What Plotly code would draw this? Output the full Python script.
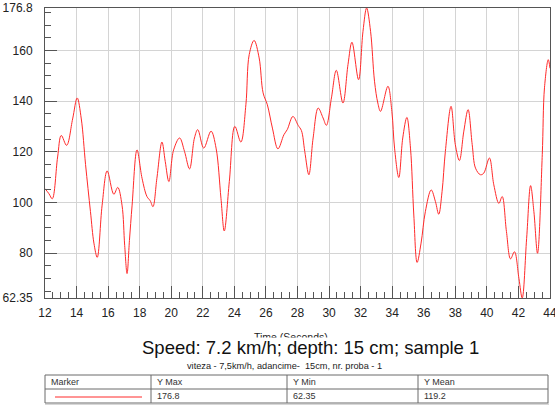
import plotly.graph_objects as go

# ---- data ----
time_s = [12.0, 12.25, 12.46, 12.8, 13.03, 13.37, 13.75, 14.04, 14.3, 14.57, 14.88, 15.1, 15.31,
          15.62, 15.94, 16.36, 16.61, 16.88, 17.05, 17.2, 17.35, 17.52, 17.83, 18.15, 18.46,
          18.67, 18.84, 19.09, 19.41, 19.62, 19.85, 20.15, 20.53, 20.84, 21.16, 21.47, 21.68,
          22.06, 22.52, 22.84, 23.15, 23.36, 23.68, 24.03, 24.41, 24.73, 24.94, 25.25, 25.57,
          25.82, 26.09, 26.41, 26.76, 27.14, 27.35, 27.71, 28.04, 28.25, 28.46, 28.72, 28.99,
          29.31, 29.62, 29.83, 30.15, 30.46, 30.88, 31.2, 31.45, 31.87, 32.15, 32.38, 32.63,
          32.88, 33.09, 33.26, 33.73, 33.98, 34.15, 34.42, 34.67, 34.93, 35.16, 35.37, 35.58,
          35.83, 36.1, 36.47, 36.74, 36.95, 37.16, 37.37, 37.73, 38.0, 38.26, 38.54, 38.81,
          39.07, 39.28, 39.59, 39.8, 40.16, 40.44, 40.76, 40.97, 41.24, 41.5, 41.75, 42.03,
          42.24, 42.52, 42.77, 42.98, 43.21, 43.51, 43.65, 43.89, 44.0]
speed = [105.5, 103.5, 101.5, 118, 126.5, 122.6, 133, 141.3, 133, 115, 96.5, 84, 78.4,
         99, 112.5, 103.3, 106, 99, 83, 72, 85, 99, 120.8, 109.6, 102.4,
         100.7, 98.4, 109.6, 123.9, 116.2, 108.3, 120.8, 125.5, 120.2, 113.3, 125.5, 128.8,
         121.5, 128.2, 121.5, 101.7, 88.8, 108.3, 130.1, 123.9, 138.6, 158.4, 164, 157.1,
         143.3, 138.6, 129.4, 121.2, 126.8, 128.8, 134.0, 130.5, 128.4, 120.2, 111, 125.5,
         137.3, 133.4, 130.5, 141.3, 152.2, 139.3, 154.5, 163.3, 148.5, 167.6, 176.8, 167.6,
         147.9, 139.3, 136, 145.9, 136, 121.5, 109.9, 125.5, 133.6, 121.5, 95.1, 76.4,
         84, 96.4, 105, 100.4, 95.4, 104.3, 120.2, 138, 122.9, 116.6, 128.2, 136.7,
         122.9, 113.6, 111, 111.6, 117.6, 107, 99.7, 102.4, 88.6, 77.8, 80.6, 70.1,
         62.35, 85.9, 106.7, 96.4, 80, 118.9, 145.3, 156.4, 153]

y_tickvals = [62.35, 80, 100, 120, 140, 160, 176.8]
y_ticktext = ["62.35", "80", "100", "120", "140", "160", "176.8"]
x_tickvals = list(range(12, 45, 2))

table_header = ["Marker", "Y Max", "Y Min", "Y Mean"]
table_values = ["176.8", "62.35", "119.2"]

title_text = "Speed: 7.2 km/h; depth: 15 cm; sample 1"
subtitle_text = "viteza - 7,5km/h, adancime-  15cm, nr. proba - 1"
x_title = "Time (Seconds)"

# ---- layout geometry (window pixels) ----
W, H = 555, 407
L, R, T, B = 45, 550, 8, 298
LINE_RED = "#ff2a2a"
FONT = "Arial, Liberation Sans, sans-serif"


def px(x):
    return (x - L) / (R - L)


def py(y):
    return (B - y) / (B - T)


fig = go.Figure()
fig.add_trace(go.Scatter(x=time_s, y=speed, mode="lines",
                         line=dict(color=LINE_RED, width=1, shape="spline", smoothing=1.0),
                         hoverinfo="x+y", showlegend=False))

axis_common = dict(showline=True, linecolor="#555555", linewidth=1, mirror=True,
                   ticks="inside", ticklen=12, tickcolor="#555555", tickwidth=1,
                   showgrid=True, gridcolor="#d4d4d4", gridwidth=1, zeroline=False,
                   automargin=False, ticklabeloverflow="allow",
                   tickfont=dict(family=FONT, size=12, color="#222222"))

fig.update_xaxes(range=[12, 44.0001], tickmode="array", tickvals=x_tickvals,
                 minor=dict(tick0=12, dtick=0.5, ticks="inside", ticklen=6,
                            tickcolor="#555555", showgrid=False),
                 ticklabelstandoff=4, **axis_common)
fig.update_yaxes(range=[62.35, 176.8], tickmode="array", tickvals=y_tickvals,
                 ticktext=y_ticktext,
                 minor=dict(tick0=0, dtick=5, ticks="inside", ticklen=6,
                            tickcolor="#555555", showgrid=False),
                 ticklabelstandoff=9, **axis_common)

annotations = []
annotations.append(dict(text=x_title, x=px(290.5), y=py(337.5), xref="paper", yref="paper",
                        showarrow=False, xanchor="center", yanchor="middle",
                        font=dict(family=FONT, size=10.5, color="#222222")))
annotations.append(dict(text=subtitle_text, x=px(284.5), y=py(366), xref="paper", yref="paper",
                        showarrow=False, xanchor="center", yanchor="middle",
                        font=dict(family=FONT, size=9.2, color="#222222")))
# white title box that hides part of the axis title and subtitle
annotations.append(dict(text=" ", x=px(312.5), y=py(349.5), xref="paper", yref="paper",
                        showarrow=False, xanchor="center", yanchor="middle",
                        width=345, height=24, borderpad=0, bgcolor="white",
                        font=dict(family=FONT, size=10)))
annotations.append(dict(text=title_text, x=px(310.6), y=py(347), xref="paper", yref="paper",
                        showarrow=False, xanchor="center", yanchor="middle",
                        font=dict(family=FONT, size=18.5, color="#111111")))

# table
col_x = [45, 151, 287, 418, 548]
row_y = [375, 389, 403]
shapes = []
for yy in row_y:
    shapes.append(dict(type="line", xref="paper", yref="paper", x0=px(col_x[0]), x1=px(col_x[-1]),
                       y0=py(yy), y1=py(yy), line=dict(color="#6a6a6a", width=1)))
for xx in col_x:
    shapes.append(dict(type="line", xref="paper", yref="paper", x0=px(xx), x1=px(xx),
                       y0=py(row_y[0]), y1=py(row_y[-1]), line=dict(color="#6a6a6a", width=1)))
# bottom shadow
shapes.append(dict(type="line", xref="paper", yref="paper", x0=px(col_x[0]), x1=px(col_x[-1] + 1),
                   y0=py(row_y[-1] + 1), y1=py(row_y[-1] + 1), line=dict(color="#b0b0b0", width=1)))
# marker sample
shapes.append(dict(type="line", xref="paper", yref="paper", x0=px(55), x1=px(142),
                   y0=py(397), y1=py(397), line=dict(color=LINE_RED, width=1)))

for i, h in enumerate(table_header):
    annotations.append(dict(text=h, x=px(col_x[i] + 4), y=py(382), xref="paper", yref="paper",
                            showarrow=False, xanchor="left", yanchor="middle",
                            font=dict(family=FONT, size=9, color="#333333")))
for i, v in enumerate(table_values):
    annotations.append(dict(text=v, x=px(col_x[i + 1] + 4), y=py(396), xref="paper", yref="paper",
                            showarrow=False, xanchor="left", yanchor="middle",
                            font=dict(family=FONT, size=9, color="#333333")))

fig.update_layout(width=W, height=H,
                  margin=dict(l=L, r=W - R, t=T, b=H - B, autoexpand=False),
                  paper_bgcolor="white", plot_bgcolor="white",
                  annotations=annotations, shapes=shapes, showlegend=False)

fig.write_html("out.html", config={"displayModeBar": False},
               post_script="document.body.style.margin='0px';document.body.style.overflow='hidden';")
